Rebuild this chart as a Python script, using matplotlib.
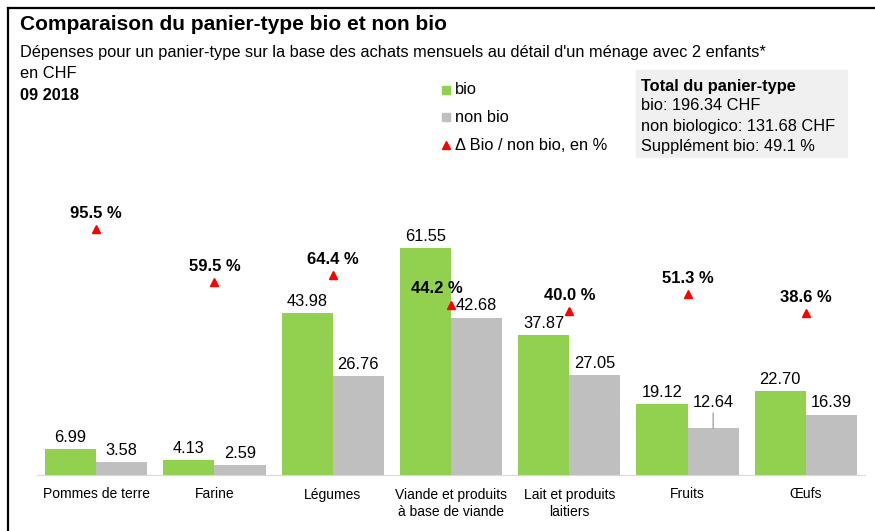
import matplotlib
matplotlib.use("Agg")
import matplotlib.pyplot as plt
from matplotlib.lines import Line2D
from matplotlib.patches import Rectangle

plt.rcParams['font.family'] = ['Liberation Sans', 'DejaVu Sans']

categories = ["Pommes de terre", "Farine", "Légumes", "Viande et produits\nà base de viande",
              "Lait et produits\nlaitiers", "Fruits", "Œufs"]
bio = [6.99, 4.13, 43.98, 61.55, 37.87, 19.12, 22.70]
non_bio = [3.58, 2.59, 26.76, 42.68, 27.05, 12.64, 16.39]
delta = [95.5, 59.5, 64.4, 44.2, 40.0, 51.3, 38.6]

GREEN = "#92d050"
GRAY = "#bfbfbf"
RED = "#ff0000"

W, H = 875, 531
fig = plt.figure(figsize=(W / 100, H / 100), dpi=100)

def fx(px):
    return px / W

def fy(py):
    return 1 - py / H

ax = fig.add_axes([fx(37), fy(475), fx(865) - fx(37), fy(185) - fy(475)])
ax2 = ax.twinx()

x = list(range(len(categories)))
bw = 0.432
ax.bar([i - bw / 2 for i in x], bio, width=bw, color=GREEN, zorder=2)
ax.bar([i + bw / 2 for i in x], non_bio, width=bw, color=GRAY, zorder=2)
ax.set_xlim(-0.5, len(categories) - 0.5)
ax.set_ylim(0, 78.6)

for i, v in enumerate(bio):
    ax.annotate(f"{v:.2f}", (i - bw / 2, v), xytext=(0, 3), textcoords="offset points",
                ha="center", va="bottom", fontsize=11.8)
for i, v in enumerate(non_bio):
    dy = 3
    if i == 5:
        dy = 13
        ax.annotate("", xy=(i + bw / 2, v), xytext=(i + bw / 2, v + 4.2),
                    arrowprops=dict(arrowstyle="-", color="#808080", lw=0.7,
                                    shrinkA=0, shrinkB=0))
    ax.annotate(f"{v:.2f}", (i + bw / 2, v), xytext=(0, dy), textcoords="offset points",
                ha="center", va="bottom", fontsize=11.8, zorder=5)

ax2.set_ylim(-71, 125.3)
ax2.plot(x, delta, linestyle="none", marker="^", color=RED, markersize=6, zorder=3)
for i, v in enumerate(delta):
    dx = -10 if i == 3 else 0
    ax2.annotate(f"{v:.1f} %", (i, v), xytext=(dx, 6), textcoords="offset points",
                 ha="center", va="bottom", fontsize=12, fontweight="bold")

for a in (ax, ax2):
    for s in a.spines.values():
        s.set_visible(False)
    a.set_yticks([])
ax.spines['bottom'].set_visible(True)
ax.spines['bottom'].set_color("#d9d9d9")
ax.set_xticks(x)
ax.set_xticklabels(categories, fontsize=10, linespacing=1.35)
ax.tick_params(axis='x', length=0, pad=9)

# frame lines
fig.add_artist(Line2D([fx(8), 1], [fy(8), fy(8)], color="black", lw=1.6))
fig.add_artist(Line2D([fx(8), fx(8)], [fy(8), 0], color="black", lw=1.6))

# titles
fig.text(fx(20), fy(24), "Comparaison du panier-type bio et non bio", fontsize=15,
         fontweight="bold", va="center", ha="left")
fig.text(fx(20), fy(52), "Dépenses pour un panier-type sur la base des achats mensuels au détail d'un ménage avec 2 enfants*",
         fontsize=11.8, va="center", ha="left")
fig.text(fx(20), fy(74), "en CHF", fontsize=11.8, va="center", ha="left")
fig.text(fx(20), fy(96), "09 2018", fontsize=11.8, fontweight="bold", va="center", ha="left")

# legend
fig.add_artist(Rectangle((fx(442), fy(94)), fx(8), 8 / H, color=GREEN, transform=fig.transFigure))
fig.text(fx(455), fy(90), "bio", fontsize=11.8, va="center")
fig.add_artist(Rectangle((fx(442), fy(121)), fx(8), 8 / H, color=GRAY, transform=fig.transFigure))
fig.text(fx(455), fy(117), "non bio", fontsize=11.8, va="center")
fig.add_artist(Line2D([fx(446)], [fy(145)], marker="^", color=RED, markersize=6, linestyle="none"))
fig.text(fx(455), fy(145), "Δ Bio / non bio, en %", fontsize=11.8, va="center")

# total box
fig.add_artist(Rectangle((fx(636), fy(157)), fx(847) - fx(636), (157 - 70) / H,
                         color="#f0f0f0", transform=fig.transFigure, zorder=0))
fig.text(fx(641), fy(87), "Total du panier-type", fontsize=11.8, fontweight="bold", va="center")
fig.text(fx(641), fy(106), "bio: 196.34 CHF", fontsize=11.8, va="center")
fig.text(fx(641), fy(127), "non biologico: 131.68 CHF", fontsize=11.8, va="center")
fig.text(fx(641), fy(147), "Supplément bio: 49.1 %", fontsize=11.8, va="center")

fig.savefig("out.png", dpi=100)
